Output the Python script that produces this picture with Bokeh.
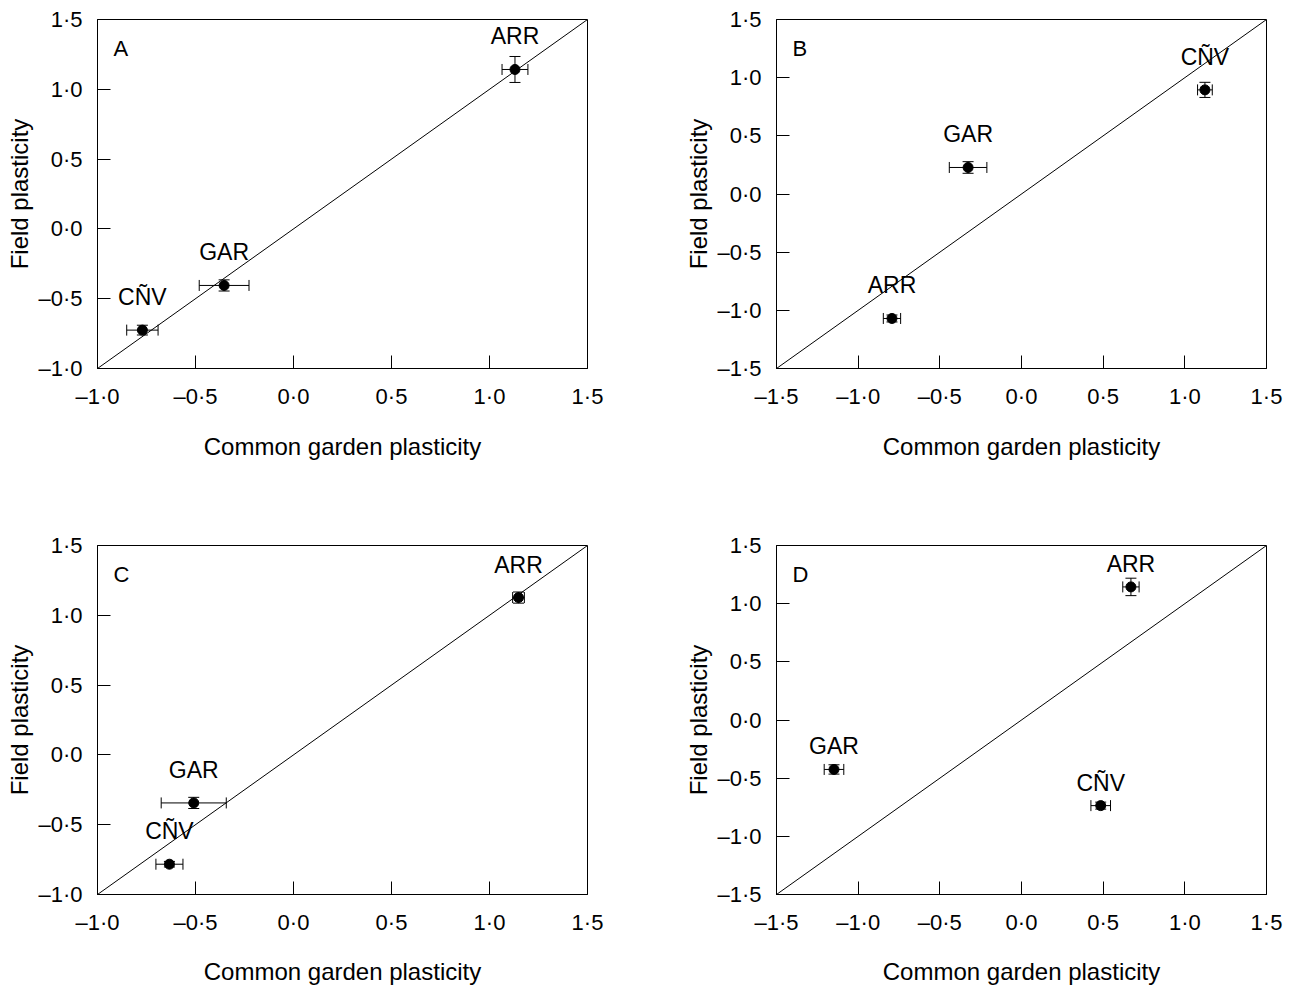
from bokeh.plotting import figure
from bokeh.layouts import column, row
from bokeh.models import (ColumnDataSource, Whisker, TeeHead, Slope, Range1d,
                          FixedTicker, CustomJSTickFormatter, Label)
from bokeh.core.properties import value
from bokeh.embed import file_html
from bokeh.resources import INLINE

FONT = "Liberation Sans"

# ---------------- data ----------------
x_label = "Common garden plasticity"
y_label = "Field plasticity"

ticks_AC = [-1.0, -0.5, 0.0, 0.5, 1.0, 1.5]
ticks_BD = [-1.5, -1.0, -0.5, 0.0, 0.5, 1.0, 1.5]

sites_A = ["ARR", "GAR", "CÑV"]
garden_A = [1.13, -0.354, -0.771]
garden_err_A = [0.066, 0.127, 0.08]
field_A = [1.142, -0.405, -0.725]
field_err_A = [0.093, 0.04, 0.035]

sites_B = ["CÑV", "GAR", "ARR"]
garden_B = [1.123, -0.327, -0.793]
garden_err_B = [0.045, 0.115, 0.053]
field_B = [0.895, 0.228, -1.07]
field_err_B = [0.065, 0.05, 0.03]

sites_C = ["ARR", "GAR", "CÑV"]
garden_C = [1.148, -0.509, -0.633]
garden_err_C = [0.03, 0.166, 0.069]
field_C = [1.127, -0.344, -0.783]
field_err_C = [0.04, 0.04, 0.02]

sites_D = ["ARR", "GAR", "CÑV"]
garden_D = [0.670, -1.148, 0.485]
garden_err_D = [0.05, 0.06, 0.06]
field_D = [1.144, -0.425, -0.736]
field_err_D = [0.075, 0.04, 0.03]

TICK_FMT = CustomJSTickFormatter(code="""
    const s = Math.abs(tick).toFixed(1).replace('.', '\\u00b7');
    return (tick < -1e-9 ? '\\u2013' : '') + s;
""")


def make_panel(letter, sites, gx, gxe, fy, fye, ticks,
               borders, xlab_standoff, lab_offset):
    lo, hi = ticks[0], ticks[-1]
    l, r, t, b = borders
    p = figure(frame_width=490, frame_height=349,
               x_range=Range1d(lo, hi), y_range=Range1d(lo, hi),
               min_border_left=l, min_border_right=r,
               min_border_top=t, min_border_bottom=b,
               toolbar_location=None, tools="", output_backend="svg",
               background_fill_color="white", border_fill_color="white")
    p.outline_line_color = "black"
    p.outline_line_alpha = 1
    p.outline_line_width = 1
    p.grid.visible = False

    for ax in (p.xaxis[0], p.yaxis[0]):
        ax.ticker = FixedTicker(ticks=ticks)
        ax.formatter = TICK_FMT
        ax.major_tick_in = 13
        ax.major_tick_out = 0
        ax.minor_tick_line_color = None
        ax.axis_line_color = "black"
        ax.major_tick_line_color = "black"
        ax.major_label_text_font = FONT
        ax.major_label_text_font_size = "22px"
        ax.major_label_text_color = "black"
        ax.major_label_standoff = 15
        ax.axis_label_text_font = FONT
        ax.axis_label_text_font_size = "24px"
        ax.axis_label_text_font_style = "normal"
        ax.axis_label_text_color = "black"
    p.xaxis.axis_label = x_label
    p.yaxis.axis_label = y_label
    p.xaxis.axis_label_standoff = xlab_standoff
    p.yaxis.axis_label_standoff = 2

    p.add_layout(Slope(gradient=1, y_intercept=0, line_color="black", line_width=1))

    src = ColumnDataSource(dict(
        site=sites, x=gx, y=fy,
        xl=[a - e for a, e in zip(gx, gxe)], xu=[a + e for a, e in zip(gx, gxe)],
        yl=[a - e for a, e in zip(fy, fye)], yu=[a + e for a, e in zip(fy, fye)],
    ))
    p.add_layout(Whisker(source=src, base="y", lower="xl", upper="xu", dimension="width",
                         line_color="black", line_width=1,
                         upper_head=TeeHead(size=11, line_color="black", line_width=1),
                         lower_head=TeeHead(size=11, line_color="black", line_width=1)))
    p.add_layout(Whisker(source=src, base="x", lower="yl", upper="yu", dimension="height",
                         line_color="black", line_width=1,
                         upper_head=TeeHead(size=11, line_color="black", line_width=1),
                         lower_head=TeeHead(size=11, line_color="black", line_width=1)))
    p.scatter("x", "y", source=src, size=10, color="black")
    p.text("x", "y", text="site", source=src, text_font=value(FONT),
           text_font_size="23px", text_align="center", text_baseline="alphabetic",
           y_offset=-lab_offset, text_color="black")

    span = hi - lo
    p.add_layout(Label(x=lo + 16 / 490 * span, y=hi - 29 / 349 * span, text=letter,
                       text_font=FONT, text_font_size="22px", text_color="black",
                       text_align="left", text_baseline="alphabetic"))
    return p


pA = make_panel("A", sites_A, garden_A, garden_err_A, field_A, field_err_A, ticks_AC,
                (97, 92, 19, 158), 21, 33)
pB = make_panel("B", sites_B, garden_B, garden_err_B, field_B, field_err_B, ticks_BD,
                (97, 22, 19, 158), 21, 33)
pC = make_panel("C", sites_C, garden_C, garden_err_C, field_C, field_err_C, ticks_AC,
                (97, 92, 19, 91), 20, 33)
pD = make_panel("D", sites_D, garden_D, garden_err_D, field_D, field_err_D, ticks_BD,
                (97, 22, 19, 91), 20, 23)

layout = column(row(pA, pB), row(pC, pD))

with open("out.html", "w") as f:
    f.write(file_html(layout, INLINE))
